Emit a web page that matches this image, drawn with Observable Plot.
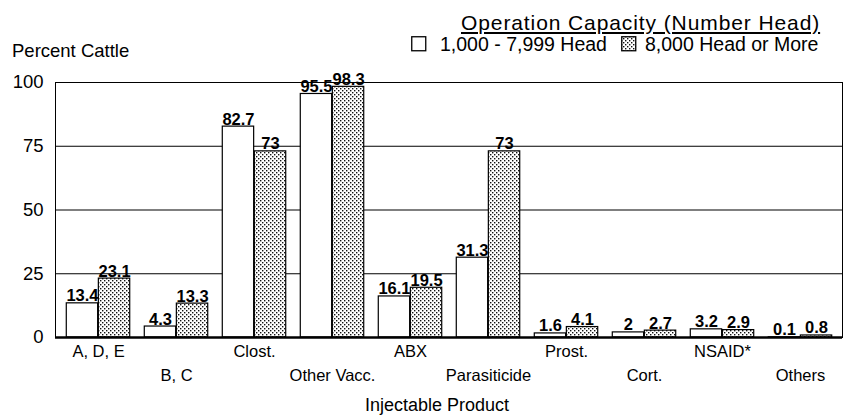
<!DOCTYPE html>
<html>
<head>
<meta charset="utf-8">
<script src="https://cdn.jsdelivr.net/npm/d3@7"></script>
<script src="https://cdn.jsdelivr.net/npm/@observablehq/plot@0.6"></script>
<style>
  html, body { margin: 0; padding: 0; background: white; }
  body { font-family: "Liberation Sans", Arial, sans-serif; color: black; }
  #wrap { position: relative; width: 844px; height: 417px; overflow: hidden; }
  .hdr { position: absolute; white-space: nowrap; line-height: 1; }
  #ylab { left: 12px; top: 42px; font-size: 18.5px; }
  #ltitle { left: 461px; top: 12px; font-size: 21px; letter-spacing: 0.9px; text-decoration: underline; }
  .sw { position: absolute; top: 36px; }
  .lt { position: absolute; top: 35px; font-size: 19.5px; white-space: nowrap; line-height: 1; }
  #xlab { left: 0; width: 874px; text-align: center; top: 396px; font-size: 18px; }
</style>
</head>
<body>
<svg width="0" height="0" style="position:absolute">
  <defs>
    <pattern id="dots" width="4" height="4" patternUnits="userSpaceOnUse">
      <rect width="4" height="4" fill="white"/>
      <rect x="0" y="0" width="1.4" height="1.4" fill="#111"/>
      <rect x="2" y="2" width="1.4" height="1.4" fill="#111"/>
    </pattern>
  </defs>
</svg>
<div id="wrap">
  <div id="chart"></div>
  <div class="hdr" id="ylab">Percent Cattle</div>
  <div class="hdr" id="ltitle">Operation Capacity (Number Head)</div>
  <div id="legend"></div>
  <div class="hdr" id="xlab">Injectable Product</div>
</div>
<script>
const categories = ["A, D, E", "B, C", "Clost.", "Other Vacc.", "ABX", "Parasiticide", "Prost.", "Cort.", "NSAID*", "Others"];
const seriesNames = ["1,000 - 7,999 Head", "8,000 Head or More"];
const smallOps = [13.4, 4.3, 82.7, 95.5, 16.1, 31.3, 1.6, 2, 3.2, 0.1];
const largeOps = [23.1, 13.3, 73, 98.3, 19.5, 73, 4.1, 2.7, 2.9, 0.8];
const yTicks = [0, 25, 50, 75, 100];
const gridTicks = [25, 50, 75];

const W = 844, H = 417, mL = 55, mR = 2, mT = 82, mB = 80;
const bw = (W - mL - mR) / categories.length;
const pairW = bw * 0.815;
const side = (bw - pairW) / 2;
const half = bw / 2;

const rowsSmall = categories.map((c, i) => ({cat: c, value: smallOps[i]}));
const rowsLarge = categories.map((c, i) => ({cat: c, value: largeOps[i]}));
const fmt = v => String(v);

const plot = Plot.plot({
  width: W, height: H,
  marginLeft: mL, marginRight: mR, marginTop: mT, marginBottom: mB,
  style: {fontFamily: "Liberation Sans, Arial, sans-serif", background: "white", color: "black", overflow: "visible"},
  x: {domain: categories, padding: 0, axis: null},
  y: {domain: [0, 100], label: null},
  marks: [
    Plot.frame({stroke: "black", strokeWidth: 1}),
    Plot.ruleY(gridTicks, {stroke: "black", strokeWidth: 1.2}),
    Plot.barY(rowsSmall, {x: "cat", y: "value", fill: "white", stroke: "black", strokeWidth: 1.2, insetLeft: side, insetRight: half}),
    Plot.barY(rowsLarge, {x: "cat", y: "value", fill: "url(#dots)", stroke: "black", strokeWidth: 1.2, insetLeft: half, insetRight: side}),
    Plot.ruleY([0], {stroke: "black", strokeWidth: 2.5}),
    Plot.axisY(yTicks, {tickSize: 0, tickPadding: 12, fontSize: 18.5, label: null}),
    Plot.text(rowsSmall, {x: "cat", y: "value", text: d => fmt(d.value), dx: -pairW / 4, dy: -2, lineAnchor: "bottom", fontWeight: "bold", fontSize: 16.5}),
    Plot.text(rowsLarge, {x: "cat", y: "value", text: d => fmt(d.value), dx: pairW / 4, dy: -2, lineAnchor: "bottom", fontWeight: "bold", fontSize: 16.5}),
    Plot.text(categories.filter((d, i) => i % 2 === 0), {x: d => d, text: d => d, frameAnchor: "bottom", dy: 19, fontSize: 16.5}),
    Plot.text(categories.filter((d, i) => i % 2 === 1), {x: d => d, text: d => d, frameAnchor: "bottom", dy: 43, fontSize: 16.5})
  ]
});
document.getElementById("chart").appendChild(plot);

const legend = document.getElementById("legend");
const swatchLeft = [411, 621];
const textLeft = [440, 645];
seriesNames.forEach((name, i) => {
  const sw = document.createElementNS("http://www.w3.org/2000/svg", "svg");
  sw.setAttribute("width", 16); sw.setAttribute("height", 16);
  sw.setAttribute("class", "sw");
  sw.style.left = swatchLeft[i] + "px";
  const r = document.createElementNS("http://www.w3.org/2000/svg", "rect");
  r.setAttribute("x", 0.75); r.setAttribute("y", 0.75); r.setAttribute("width", 14); r.setAttribute("height", 14);
  r.setAttribute("fill", i === 0 ? "white" : "url(#dots)");
  r.setAttribute("stroke", "black");
  r.setAttribute("stroke-width", 1.3);
  sw.appendChild(r);
  legend.appendChild(sw);
  const t = document.createElement("div");
  t.className = "lt";
  t.style.left = textLeft[i] + "px";
  t.textContent = name;
  legend.appendChild(t);
});
</script>
</body>
</html>
